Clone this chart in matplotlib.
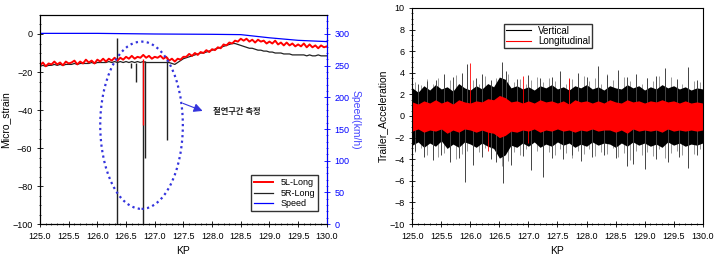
import numpy as np
import matplotlib
matplotlib.use("Agg")
import matplotlib.pyplot as plt
from matplotlib.patches import Ellipse

plt.rcParams['font.family'] = ['Liberation Sans', 'DejaVu Sans']

# ---- left panel: strain + speed ----
kp_strain = np.round(np.arange(125.0, 130.0001, 0.05), 2)
strain_5l = [-16.5, -15, -17, -15.5, -16, -14.5, -16, -15, -16.5, -14.5, -15.5,
             -15, -14, -16, -14.5, -15.5, -13.5, -15, -14, -15.5, -13.5,
             -14.5, -13, -14.5, -13, -14, -12.5, -14, -12.5, -13.5, -12,
             -13, -11.5, -13, -12, -12.5, -11, -12.5, -11.5, -13, -12,
             -12.5, -11.5, -13, -12, -14, -13, -14.5, -13, -13.5, -12,
             -12, -10.5, -11.5, -10, -11, -9.5, -10, -8.5, -9.5, -8,
             -8.5, -7, -7.5, -5.5, -6, -4.5, -5, -3.5, -4, -2.5,
             -3.5, -2.5, -4, -3, -4.5, -3, -4, -3.5, -5, -4,
             -5, -3.5, -5.5, -4.5, -6, -4.5, -6, -5, -6.5, -5.5,
             -6.5, -5, -7, -5.5, -7, -6, -7.5, -6, -7, -6.5]
strain_5r = [-17, -16.5, -17, -16.5, -16.5, -16, -16.5, -16, -16.5, -16, -16,
             -16, -15.5, -16, -15.5, -15.5, -15.5, -15.5, -15, -15.5, -15,
             -15, -15, -15, -14.5, -15, -14.5, -15, -14.5, -15, -14.5,
             -15, -14.5, -15, -14.5, -15, -14.5, -15, -15, -15, -15,
             -15, -15, -15, -15, -15, -15.5, -16, -15, -14, -13,
             -12.5, -12, -11.5, -11, -10.5, -10, -10, -9.5, -9, -8.5,
             -8, -7.5, -7, -6.5, -6, -5.5, -5, -5, -5.5, -6,
             -6.5, -7, -7.5, -7.5, -8, -8.5, -8.5, -9, -9, -9.5,
             -9.5, -10, -10, -10, -10.5, -10.5, -10.5, -11, -11, -11,
             -11, -11, -11.5, -11, -11.5, -11.5, -11, -11.5, -11.5, -11.5]
# spikes in the insulated section (kp, top, bottom)
spike_5r_kp = [126.35, 126.58, 126.68, 126.80, 126.83, 127.22]
spike_5r_top = [-2, -15, -15, -14, -14, -12]
spike_5r_bot = [-100, -18, -25, -100, -65, -56]
spike_5l_kp = [126.80]
spike_5l_top = [-13]
spike_5l_bot = [-48]

kp_speed = [125.0, 126.0, 127.0, 128.0, 128.5, 129.0, 129.5, 130.0]
speed = [301, 301, 300, 299.5, 299, 294, 290, 288]

# ---- right panel: acceleration ----
kp_acc = np.round(np.arange(125.0, 130.0001, 0.1), 1)
vert_hi = [2.6, 2.2, 2.8, 2.4, 2.9, 2.5, 2.7, 2.3, 3.0, 2.6,
           2.4, 2.8, 2.5, 3.0, 2.7, 3.6, 3.4, 2.6, 2.8, 2.5,
           2.7, 2.4, 2.8, 2.6, 2.9, 2.5, 2.7, 2.4, 2.8, 2.6,
           2.9, 2.5, 2.7, 2.4, 2.8, 2.6, 2.5, 2.9, 2.6, 2.8,
           2.4, 2.7, 2.5, 2.9, 2.6, 2.8, 2.5, 2.7, 2.4, 2.6, 2.5]
vert_lo = [-2.7, -2.4, -2.9, -2.5, -2.8, -2.3, -3.0, -2.6, -2.9, -2.4,
           -2.6, -2.9, -2.5, -2.8, -3.0, -3.9, -3.6, -2.7, -2.9, -2.5,
           -2.8, -2.4, -2.9, -2.6, -2.8, -2.4, -2.7, -2.5, -2.9, -2.6,
           -2.8, -2.4, -2.7, -2.5, -2.6, -2.9, -2.5, -2.8, -2.4, -2.7,
           -2.5, -2.8, -2.6, -2.9, -2.4, -2.7, -2.5, -2.8, -2.6, -2.7, -2.5]
long_hi = [1.3, 1.1, 1.4, 1.2, 1.5, 1.2, 1.4, 1.1, 1.5, 1.3,
           1.2, 1.4, 1.3, 1.6, 1.5, 1.9, 1.7, 1.3, 1.4, 1.2,
           1.4, 1.2, 1.5, 1.3, 1.4, 1.2, 1.4, 1.1, 1.5, 1.3,
           1.4, 1.2, 1.4, 1.2, 1.5, 1.3, 1.2, 1.5, 1.3, 1.4,
           1.2, 1.4, 1.3, 1.5, 1.3, 1.4, 1.2, 1.4, 1.2, 1.3, 1.2]
long_lo = [-1.4, -1.2, -1.5, -1.3, -1.4, -1.2, -1.6, -1.3, -1.5, -1.2,
           -1.3, -1.5, -1.3, -1.5, -1.6, -2.0, -1.8, -1.4, -1.5, -1.3,
           -1.4, -1.2, -1.5, -1.3, -1.4, -1.2, -1.4, -1.3, -1.5, -1.3,
           -1.4, -1.2, -1.4, -1.3, -1.3, -1.5, -1.3, -1.6, -1.2, -1.4,
           -1.3, -1.4, -1.3, -1.5, -1.2, -1.4, -1.3, -1.4, -1.3, -1.4, -1.3]
# fainter grey peaks between the envelope points
kp_grey = np.round(np.arange(125.05, 130.0, 0.1), 2)
grey_up = [3.1, 2.9, 3.4, 3.0, 3.5, 3.2, 3.3, 3.8, 3.1, 3.6,
           3.3, 3.0, 3.7, 3.2, 3.5, 4.2, 3.9, 3.1, 3.4, 3.0,
           3.3, 3.6, 3.1, 3.5, 3.2, 3.8, 3.0, 3.4, 3.1, 3.7,
           3.2, 3.5, 3.0, 3.9, 3.3, 3.1, 3.6, 3.2, 3.4, 3.0,
           3.5, 3.2, 3.7, 3.1, 3.6, 3.3, 3.0, 3.8, 3.2, 3.1]
grey_dn = [-3.3, -3.0, -3.6, -3.2, -3.8, -3.4, -3.1, -4.0, -3.5, -3.2,
           -3.7, -3.3, -3.0, -3.9, -3.4, -4.6, -4.2, -3.3, -3.6, -3.1,
           -3.5, -3.2, -3.8, -3.3, -3.6, -3.1, -3.4, -3.9, -3.2, -3.5,
           -3.1, -3.7, -3.3, -3.5, -3.0, -3.8, -3.4, -4.1, -3.2, -3.6,
           -3.3, -3.7, -3.1, -3.9, -3.4, -3.2, -3.6, -3.3, -3.5, -3.1]
vert_up_kp = [125.1, 125.25, 125.4, 125.55, 125.7, 125.85, 125.95, 126.1, 126.2, 126.35,
              126.55, 126.62, 126.8, 127.0, 127.2, 127.4, 127.55, 127.7, 127.85, 128.0,
              128.2, 128.35, 128.55, 128.7, 128.85, 129.05, 129.2, 129.35, 129.55, 129.75, 129.9]
vert_up = [3.0, 3.2, 3.3, 3.9, 3.6, 4.0, 4.8, 3.5, 3.9, 3.3,
           5.0, 4.2, 3.4, 3.8, 3.5, 3.6, 4.2, 3.4, 4.0, 3.6,
           4.6, 3.8, 4.3, 3.6, 3.9, 3.5, 3.7, 4.4, 3.4, 4.5, 3.3]
vert_dn_kp = [125.05, 125.2, 125.35, 125.5, 125.65, 125.8, 125.9, 126.05, 126.2, 126.35,
              126.45, 126.57, 126.7, 126.9, 127.05, 127.25, 127.4, 127.6, 127.75, 127.9,
              128.1, 128.3, 128.5, 128.7, 128.8, 129.0, 129.2, 129.4, 129.6, 129.75, 129.9]
vert_dn = [-3.2, -3.8, -4.1, -3.6, -4.3, -3.9, -6.1, -4.5, -3.8, -4.0,
           -4.3, -6.2, -4.5, -3.7, -5.0, -5.6, -3.9, -4.0, -3.6, -4.2,
           -3.8, -3.6, -3.9, -4.6, -4.4, -4.9, -4.0, -4.3, -3.8, -4.8, -3.6]
long_sp_kp = [126.0, 126.3, 126.9, 127.0, 127.7]
long_sp = [4.9, -3.2, 3.7, -2.5, 3.5]

fig = plt.figure(figsize=(7.17, 2.63), dpi=100)
fs = 6.5

# left panel
ax = fig.add_axes([0.0558, 0.148, 0.4, 0.795])
ax.plot(kp_strain, strain_5l, color="red", lw=1.4, label="5L-Long", zorder=3)
ax.plot(kp_strain, strain_5r, color="#222222", lw=0.9, label="5R-Long", zorder=2)
ax.vlines(spike_5r_kp, spike_5r_bot, spike_5r_top, color="#222222", lw=1.0, zorder=2)
ax.vlines(spike_5l_kp, spike_5l_bot, spike_5l_top, color="red", lw=1.0, zorder=3)
ax.set_xlim(125, 130)
ax.set_ylim(-100, 10)
ax.set_xticks(np.arange(125, 130.01, 0.5))
ax.set_xticklabels(["%.1f" % v for v in np.arange(125, 130.01, 0.5)])
ax.set_yticks([-100, -80, -60, -40, -20, 0])
ax.minorticks_on()
ax.tick_params(labelsize=fs, direction="inout", length=4, width=0.6)
ax.tick_params(which="minor", direction="inout", length=2, width=0.5)
ax.set_xlabel("KP", fontsize=7.5)
ax.set_ylabel("Micro_strain", fontsize=7.5, labelpad=1)

ax.add_patch(Ellipse((126.77, -48), 1.44, 88, fill=False, ec="#3333dd",
                     ls=(0, (1, 1.5)), lw=1.6, zorder=4))
ax.annotate("", xy=(127.88, -41), xytext=(127.45, -36),
            arrowprops=dict(arrowstyle="-|>", color="#3333dd", lw=0.8,
                            mutation_scale=13))
ax.text(128.02, -41, "절연구간 측정", fontsize=6, fontweight="bold",
        family=["Noto Sans CJK KR", "DejaVu Sans"], va="center", color="#222222")

ax2 = ax.twinx()
ax2.plot(kp_speed, speed, color="blue", lw=0.9, label="Speed")
ax2.set_ylim(0, 330)
ax2.set_yticks(np.arange(0, 301, 50))
ax2.minorticks_on()
ax2.tick_params(labelsize=fs, colors="blue", direction="inout", length=4, width=0.6)
ax2.tick_params(which="minor", colors="blue", direction="inout", length=2, width=0.5)
ax2.spines["right"].set_color("blue")
ax2.set_ylabel("Speed(km/h)", fontsize=7.5, color="#4444ff", rotation=270, labelpad=8)

h1, l1 = ax.get_legend_handles_labels()
h2, l2 = ax2.get_legend_handles_labels()
ax2.legend(h1 + h2, l1 + l2, loc="lower right", fontsize=6.5, frameon=True,
           fancybox=False, edgecolor="black", handlelength=2.2, borderpad=0.3,
           labelspacing=0.2, bbox_to_anchor=(0.985, 0.04))

# right panel
bx = fig.add_axes([0.575, 0.148, 0.405, 0.822])
bx.vlines(kp_grey, grey_dn, grey_up, color="#888888", lw=0.6, zorder=1)
bx.fill_between(kp_acc, vert_lo, vert_hi, color="black", lw=0, zorder=1)
bx.vlines(vert_up_kp, 0, vert_up, color="#444444", lw=0.7, zorder=1)
bx.vlines(vert_dn_kp, vert_dn, 0, color="#444444", lw=0.7, zorder=1)
bx.plot([], [], color="black", lw=0.8, label="Vertical")
bx.fill_between(kp_acc, long_lo, long_hi, color="red", lw=0, zorder=2)
bx.vlines(long_sp_kp, 0, long_sp, color="red", lw=0.6, zorder=2)
bx.plot([], [], color="red", lw=0.8, label="Longitudinal")
bx.set_xlim(125, 130)
bx.set_ylim(-10, 10)
bx.set_xticks(np.arange(125, 130.01, 0.5))
bx.set_xticklabels(["%.1f" % v for v in np.arange(125, 130.01, 0.5)])
bx.set_yticks(np.arange(-10, 10.1, 2))
bx.minorticks_on()
bx.tick_params(labelsize=fs, direction="inout", length=4, width=0.6)
bx.tick_params(which="minor", direction="inout", length=2, width=0.5)
bx.set_xlabel("KP", fontsize=7.5)
bx.set_ylabel("Trailer_Acceleration", fontsize=7.5, labelpad=1)
bx.legend(loc="upper left", bbox_to_anchor=(0.3, 0.95), fontsize=7, frameon=True,
          fancybox=False, edgecolor="black", handlelength=2.5, borderpad=0.2,
          labelspacing=0.1)

fig.savefig("out.png", dpi=100)
